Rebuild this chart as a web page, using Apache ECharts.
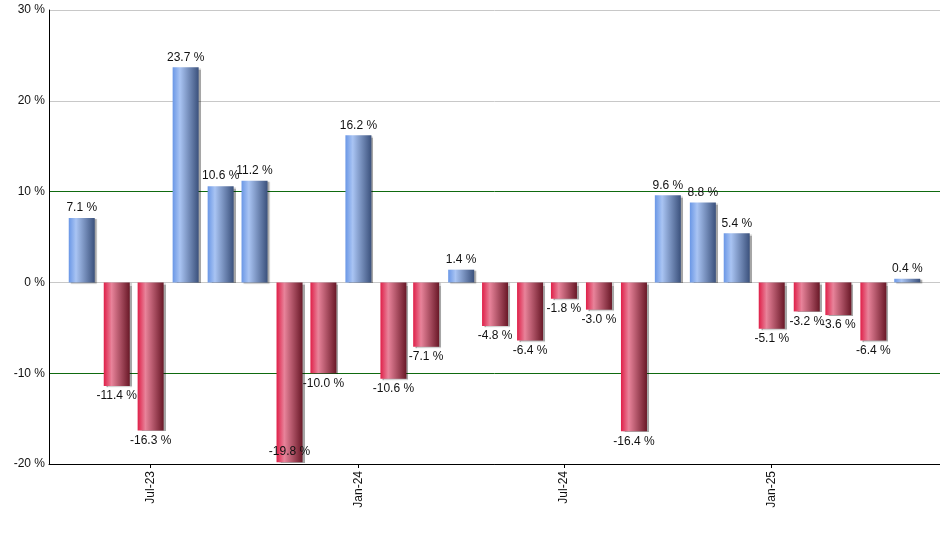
<!DOCTYPE html>
<html>
<head>
<meta charset="utf-8">
<script src="https://cdn.jsdelivr.net/npm/echarts@6/dist/echarts.min.js"></script>
<style>
    html, body { margin: 0; padding: 0; background: #fff; }
    #container { width: 940px; height: 550px; }
</style>
</head>
<body>
<div id="container"></div>
<script>
    // monthly returns, one bar per month
    var months = ['2023-05-01', '2023-06-01', '2023-07-01', '2023-08-01', '2023-09-01', '2023-10-01',
        '2023-11-01', '2023-12-01', '2024-01-01', '2024-02-01', '2024-03-01', '2024-04-01',
        '2024-05-01', '2024-06-01', '2024-07-01', '2024-08-01', '2024-09-01', '2024-10-01',
        '2024-11-01', '2024-12-01', '2025-01-01', '2025-02-01', '2025-03-01', '2025-04-01', '2025-05-01'];
    var returns = [7.1, -11.4, -16.3, 23.7, 10.6, 11.2,
        -19.8, -10.0, 16.2, -10.6, -7.1, 1.4,
        -4.8, -6.4, -1.8, -3.0, -16.4, 9.6,
        8.8, 5.4, -5.1, -3.2, -3.6, -6.4, 0.4];
    var tickDates = ['2023-07-01', '2024-01-01', '2024-07-01', '2025-01-01'];
    var monthNames = ['Jan', 'Feb', 'Mar', 'Apr', 'May', 'Jun', 'Jul', 'Aug', 'Sep', 'Oct', 'Nov', 'Dec'];
    var yMin = -20, yMax = 30;

    function ts(s) {
        return new Date(s + 'T00:00:00Z').getTime();
    }

    var blueFill = new echarts.graphic.LinearGradient(0, 0, 1, 0, [
        {offset: 0, color: '#6a97e6'},
        {offset: 0.28, color: '#a9c4f3'},
        {offset: 1, color: '#3b517c'}
    ]);
    var redFill = new echarts.graphic.LinearGradient(0, 0, 1, 0, [
        {offset: 0, color: '#df1f48'},
        {offset: 0.3, color: '#e8839a'},
        {offset: 1, color: '#691827'}
    ]);

    // label goes above/below the bar, kept inside the plot when no room is left
    function labelPos(v) {
        if (v >= 0) return 'top';
        if (v - yMin < 1.5) return 'insideBottom';
        return 'bottom';
    }

    var barData = months.map(function (m, i) {
        var v = returns[i];
        return {
            value: [ts(m), v],
            itemStyle: {color: v >= 0 ? blueFill : redFill},
            label: {position: labelPos(v)}
        };
    });
    var tickValues = tickDates.map(ts);

    var chart = echarts.init(document.getElementById('container'));
    var font = 'Liberation Sans, Arial, sans-serif';
    var option = {
        animation: false,
        grid: {left: 49, right: 0, top: 10, bottom: 86},
        xAxis: {
            type: 'value',
            min: ts('2023-04-02'),
            max: ts('2025-05-30'),
            axisLine: {onZero: false, lineStyle: {color: '#000', width: 1}},
            axisTick: {show: true, length: 4, lineStyle: {color: '#000'}, customValues: tickValues},
            axisLabel: {
                customValues: tickValues,
                rotate: 90,
                color: '#111',
                fontSize: 12,
                fontFamily: font,
                margin: 7,
                formatter: function (val) {
                    var d = new Date(val);
                    return monthNames[d.getUTCMonth()] + '-' + String(d.getUTCFullYear()).slice(2);
                }
            },
            splitLine: {show: false}
        },
        yAxis: {
            type: 'value',
            min: yMin,
            max: yMax,
            interval: 10,
            axisLine: {show: true, lineStyle: {color: '#000', width: 1}},
            axisTick: {show: false},
            axisLabel: {
                formatter: '{value} %',
                color: '#111',
                fontSize: 12,
                fontFamily: font,
                margin: 4
            },
            splitLine: {
                show: true,
                lineStyle: {
                    color: ['#000', '#0f6a0f', '#c8c8c8', '#0f6a0f', '#c8c8c8', '#c8c8c8'],
                    width: 1
                }
            }
        },
        series: [
            {
                type: 'bar',
                barWidth: 26,
                data: barData,
                itemStyle: {
                    shadowColor: 'rgba(0,0,0,0.35)',
                    shadowBlur: 1,
                    shadowOffsetX: 2,
                    shadowOffsetY: 1
                },
                label: {
                    show: true,
                    distance: 4,
                    color: '#111',
                    fontSize: 12,
                    fontFamily: font,
                    formatter: function (p) {
                        return p.value[1].toFixed(1) + ' %';
                    }
                }
            }
        ]
    };
    chart.setOption(option);
</script>
</body>
</html>
